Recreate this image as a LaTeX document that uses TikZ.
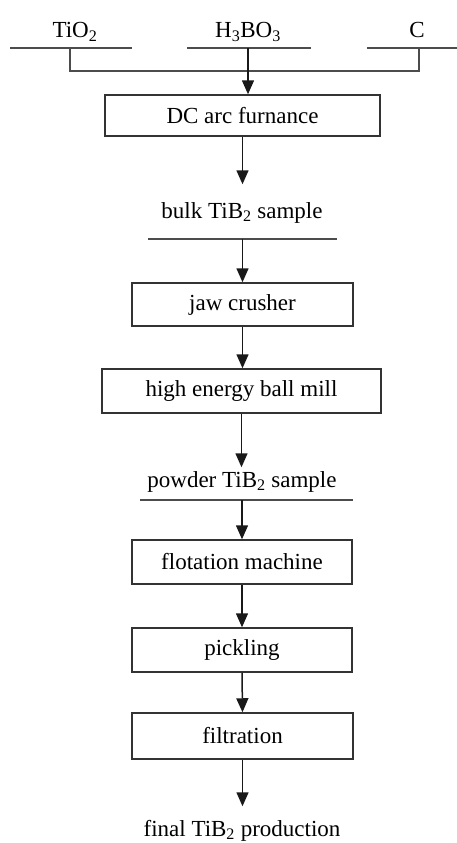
\documentclass[tikz,border=0pt]{standalone}
\usepackage{fontspec}
\setmainfont{Liberation Serif}
\usetikzlibrary{arrows.meta}
\begin{document}
\begin{tikzpicture}[x=1pt,y=-1pt,
  line width=1.5pt, draw=black!85,
  every node/.style={font=\fontsize{23}{27}\selectfont},
  stepbox/.style={draw=black!80, line width=1.5pt, rectangle, inner sep=0pt, anchor=center},
  lbl/.style={inner sep=0pt, anchor=base, text height=17pt, text depth=5pt},
  arr/.style={-{Triangle[width=12pt,length=14pt]}, line width=1.5pt, draw=black!90},
  ln/.style={line width=1.5pt, draw=black!70}]
\useasboundingbox (0,0) rectangle (457,843);

% raw materials
\node[lbl] (tio) at (75,38) {TiO\textsubscript{2}};
\node[lbl] (hbo) at (248,38) {H\textsubscript{3}BO\textsubscript{3}};
\node[lbl] (c) at (417,38) {C};
\coordinate (tioL) at (10,48);  \coordinate (tioR) at (132,48);
\coordinate (hboL) at (187,48); \coordinate (hboR) at (311,48);
\coordinate (cL) at (367,48);   \coordinate (cR) at (457,48);
\draw[ln] (tioL) -- (tioR);
\draw[ln] (hboL) -- (hboR);
\draw[ln] (cL) -- (cR);
\coordinate (tioJ) at (70,48);
\coordinate (cJ) at (419,48);
\coordinate (hboJ) at (248,48);
\draw[ln] (tioJ) -- ++(0,23) -| (cJ);

% boxes
\node[stepbox, minimum width=275pt, minimum height=41pt] (dc) at (242.5,115.5) {DC arc furnance};
\node[lbl] (bulk) at (242,218) {bulk TiB\textsubscript{2} sample};
\coordinate (bulkL) at (148,239); \coordinate (bulkR) at (337,239);
\node[stepbox, minimum width=221pt, minimum height=43pt] (jaw) at (242.5,304.5) {jaw crusher};
\node[stepbox, minimum width=279pt, minimum height=44pt] (ball) at (241.5,391) {high energy ball mill};
\node[lbl] (powder) at (242,487) {powder TiB\textsubscript{2} sample};
\coordinate (powL) at (140,500); \coordinate (powR) at (353,500);
\node[stepbox, minimum width=220pt, minimum height=44pt] (flot) at (242,562) {flotation machine};
\node[stepbox, minimum width=220pt, minimum height=44pt] (pick) at (242,650) {pickling};
\node[stepbox, minimum width=221pt, minimum height=46pt] (filt) at (242.5,736) {filtration};
\node[lbl] (final) at (242,836) {final TiB\textsubscript{2} production};

\draw[ln] (bulkL) -- (bulkR);
\draw[ln] (powL) -- (powR);

% arrows
\draw[arr] (hboJ) -- (hboJ |- dc.north);
\draw[arr, shorten >=16pt] (dc.south) -- (dc.south |- bulk.north);
\draw[arr] (jaw.north |- bulkL) -- (jaw.north);
\draw[arr] (jaw.south) -- (jaw.south |- ball.north);
\draw[arr, shorten >=2pt] (ball.south) -- (ball.south |- powder.north);
\draw[arr] (flot.north |- powL) -- (flot.north);
\draw[arr] (flot.south) -- (pick.north);
\draw[arr] (pick.south) -- (filt.north);
\draw[arr, shorten >=12pt] (filt.south) -- (filt.south |- final.north);
\end{tikzpicture}
\end{document}
